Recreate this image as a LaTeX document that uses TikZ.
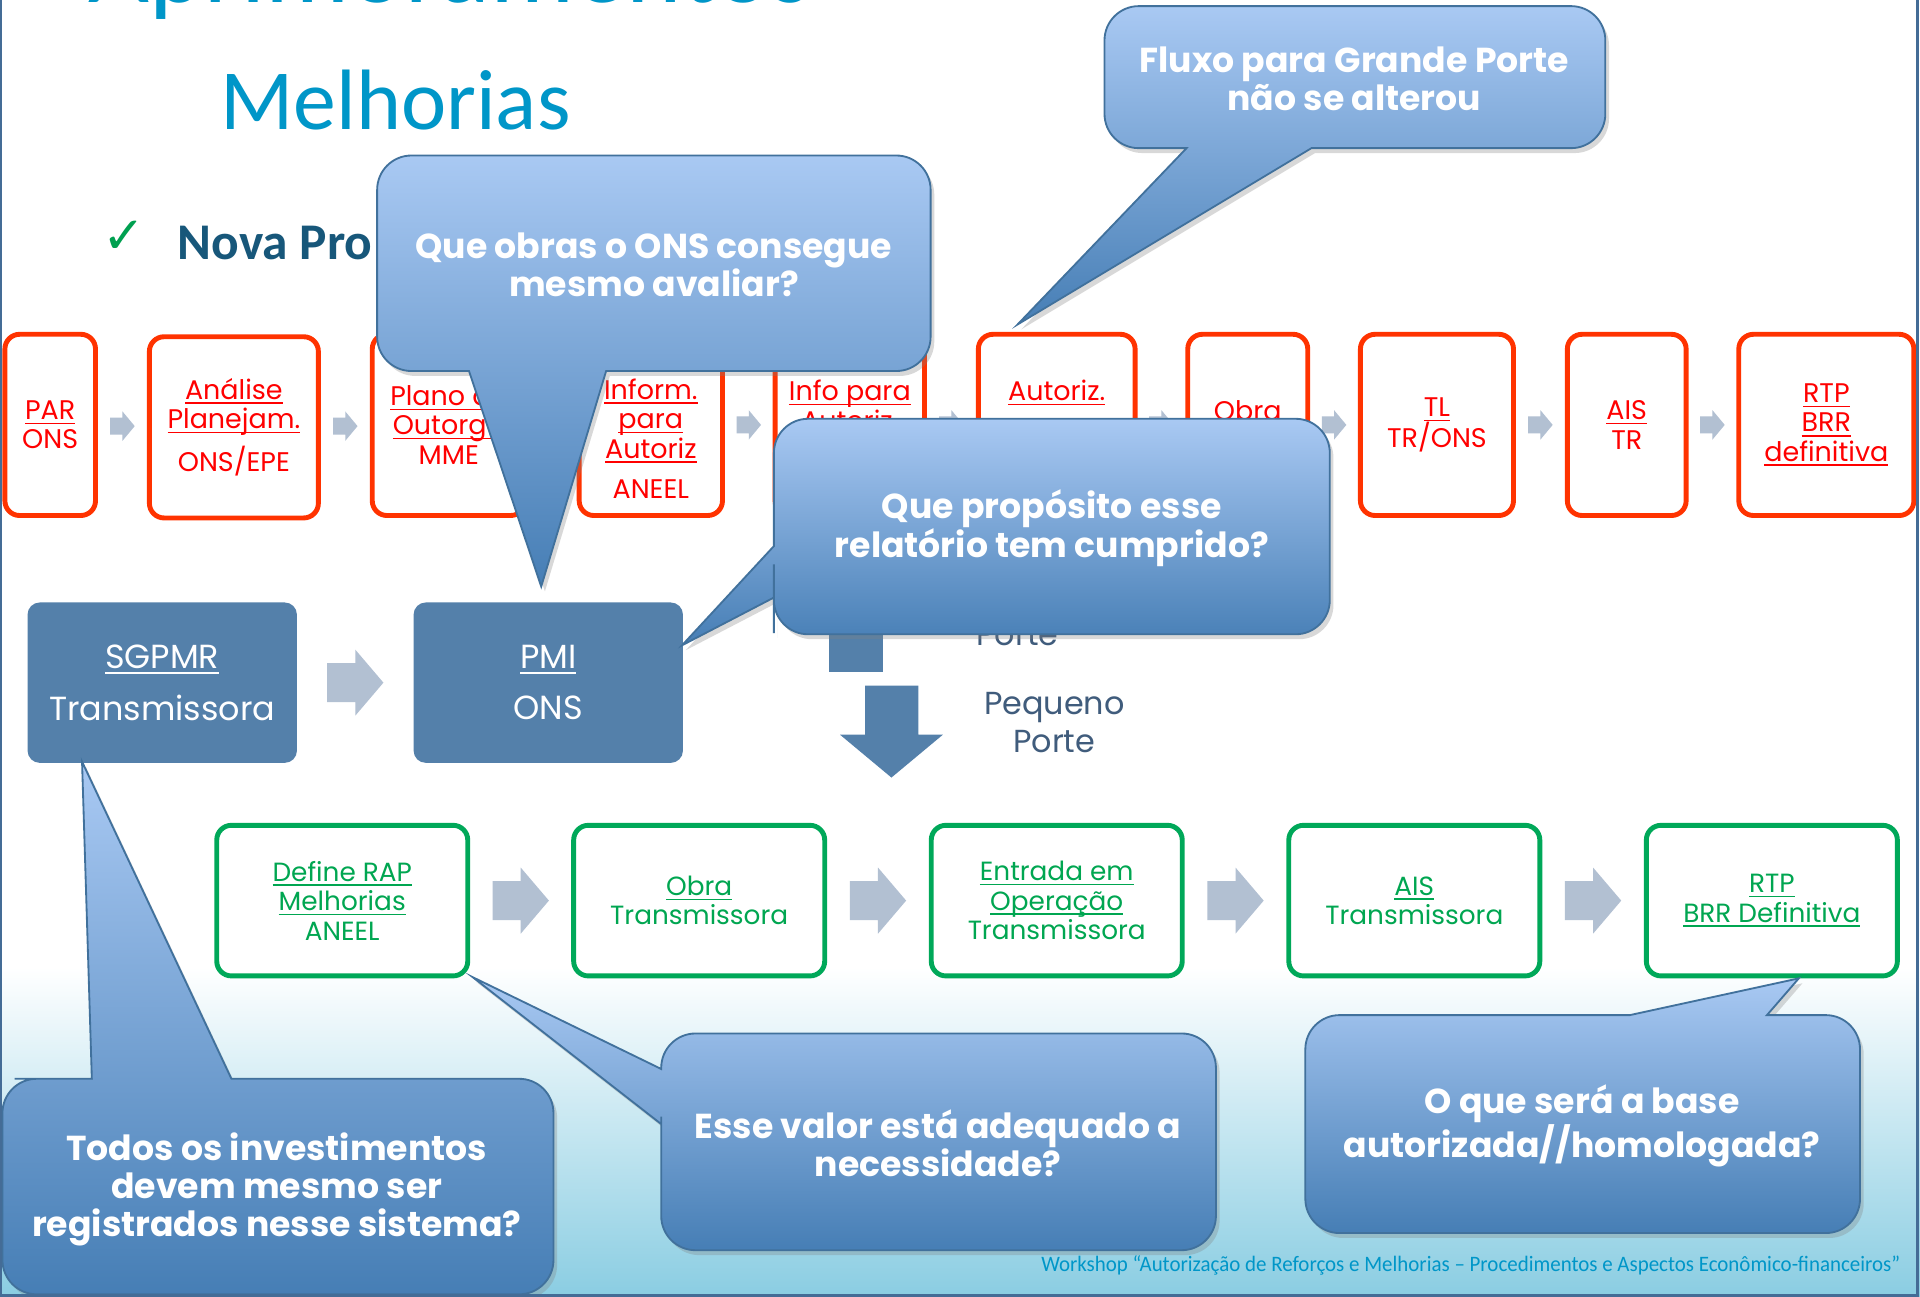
\documentclass[tikz,border=0pt]{standalone}
\usepackage{fontspec}
\usepackage{graphicx}
\setmainfont{Poppins}
\newfontfamily\calibri{Carlito}
\newfontfamily\dejavu{DejaVu Sans}
\usetikzlibrary{calc,shadows}
\newcommand{\lnk}[1]{\setbox0\hbox{#1}\rlap{\rule[-0.17em]{\wd0}{0.055em}}\box0}

\definecolor{titleblue}{RGB}{0,150,200}
\definecolor{novablue}{RGB}{23,87,122}
\definecolor{checkgreen}{RGB}{0,160,80}
\definecolor{redline}{RGB}{255,51,0}
\definecolor{redtext}{RGB}{255,0,0}
\definecolor{greenline}{RGB}{0,168,89}
\definecolor{greentext}{RGB}{0,166,81}
\definecolor{boxblue}{RGB}{84,128,170}
\definecolor{arrowgray}{RGB}{178,192,210}
\definecolor{callouttop}{RGB}{169,201,243}
\definecolor{calloutbot}{RGB}{70,126,181}
\definecolor{calloutline}{RGB}{65,113,156}
\definecolor{portegray}{RGB}{64,92,124}
\definecolor{bgblue}{RGB}{138,205,226}
\definecolor{framecol}{RGB}{68,108,150}

\tikzset{
  redbox/.style={draw=redline, line width=4pt, rounded corners=12pt, fill=white,
    minimum height=148pt, inner sep=0pt, text=redtext, align=center,
    font=\fontsize{22}{24}\selectfont},
  greenbox/.style={draw=greenline, line width=4pt, rounded corners=12pt, fill=white,
    minimum width=205pt, minimum height=123pt, text=greentext, align=center,
    font=\fontsize{21.5}{24}\selectfont},
  bluebox/.style={fill=boxblue, rounded corners=10pt, minimum width=220pt,
    minimum height=131pt, text=white, align=center, font=\fontsize{27.3}{42}\selectfont},
  bubble/.style={draw=calloutline, line width=1.5pt, top color=callouttop,
    bottom color=calloutbot,
    drop shadow={shadow xshift=3pt, shadow yshift=-4pt, opacity=0.3}},
  bubbletext/.style={text=white, align=center, font=\bfseries\fontsize{28.3}{31}\selectfont},
  porte/.style={text=portegray, align=center, font=\fontsize{26}{31}\selectfont},
  chev/.pic={\fill[arrowgray] (-10,-7) -- (0,-7) -- (0,-12) -- (10,0) -- (0,12) -- (0,7) -- (-10,7) -- cycle;},
  bigchev/.pic={\fill[arrowgray] (-23,-16) -- (0,-16) -- (0,-27) -- (23,0) -- (0,27) -- (0,16) -- (-23,16) -- cycle;}
}

\begin{document}
\begin{tikzpicture}[x=1pt,y=-1pt]
  \useasboundingbox (0,0) rectangle (1568,1059);
  \clip (0,0) rectangle (1568,1059);
  % fundo
  \fill[white] (0,0) rectangle (1568,1059);
  \fill[top color=white, bottom color=bgblue] (0,790) rectangle (1568,1059);

  % titulo
  \node[anchor=base west, inner sep=0pt, text=titleblue, font=\calibri\fontsize{86}{86}\selectfont] (aprimo) at (72,2) {Aprimoramentos};
  \node[anchor=base west, inner sep=0pt, text=titleblue, font=\calibri\fontsize{70}{70}\selectfont] (melhorias) at (180,106) {Melhorias};
  \node[text=checkgreen, font=\dejavu\fontsize{42}{42}\selectfont] (check) at (101,194) {✓};
  \node[anchor=base west, inner sep=0pt, text=novablue, font=\calibri\bfseries\fontsize{42}{42}\selectfont] (nova) at (145,212) {Nova Pro};

  % fluxo grande porte
  \node[redbox, minimum width=74pt] (par) at (41,347) {\lnk{PAR}\\ONS};
  \node[redbox, minimum width=138pt] (analise) at (191,349) {\lnk{Análise}\\\lnk{Planejam.}\\[8pt]ONS/EPE};
  \node[redbox, minimum width=125pt] (plano) at (366.5,347) {\lnk{Plano de}\\\lnk{Outorga}\\MME};
  \node[redbox, minimum width=117pt] (inform) at (531.5,347) {\vphantom{Ag}\\\lnk{Inform.}\\\lnk{para}\\\lnk{Autoriz}\\[9pt]ANEEL};
  \node[redbox, minimum width=122pt] (info) at (694,347) {\lnk{Info para}\\\lnk{Autoriz.}\\[8pt]\mbox{}};
  \node[redbox, minimum width=128pt] (autoriz) at (863,347) {\lnk{Autoriz.}\\\mbox{}\\[8pt]\mbox{}};
  \node[redbox, minimum width=98pt] (obrat) at (1019,347) {\lnk{Obra}\\\mbox{}};
  \node[redbox, minimum width=125pt] (tl) at (1173.5,347) {\lnk{TL}\\TR/ONS};
  \node[redbox, minimum width=97pt] (aistr) at (1328.5,347) {\lnk{AIS}\\TR};
  \node[redbox, minimum width=143pt] (rtpbrr) at (1491.5,347) {\lnk{RTP}\\\lnk{BRR}\\\lnk{definitiva}};
  \foreach \a/\b in {par/analise,analise/plano,plano/inform,inform/info,info/autoriz,autoriz/obrat,obrat/tl,tl/aistr,aistr/rtpbrr}
    \path ($(\a.east)!.5!(\b.west)$) pic {chev};

  % sistemas
  \node[bluebox] (sgpmr) at (132.5,557.5) {\lnk{SGPMR}\\Transmissora};
  \node[bluebox] (pmi) at (447.75,557.5) {\lnk{PMI}\\ONS};
  \path ($(sgpmr.east)!.5!(pmi.west)$) pic {bigchev};

  % pequeno porte
  \fill[boxblue] (677,480) rectangle (721,548.5);
  \fill[boxblue] (706.5,560) -- (750,560) -- (750,600) -- (770,600) -- (728,635) -- (686,600) -- (706.5,600) -- cycle;
  \node[porte, anchor=base] (grande) at (831,527) {Porte};
  \node[porte] (pequeno) at (861,590) {Pequeno\\Porte};

  % fluxo pequeno porte
  \node[greenbox] (rap) at (279.5,735.5) {\lnk{Define RAP}\\\lnk{Melhorias}\\ANEEL};
  \node[greenbox] (obra) at (571,735.5) {\lnk{Obra}\\Transmissora};
  \node[greenbox] (entrada) at (863,735.5) {\lnk{Entrada em}\\\lnk{Operação}\\Transmissora};
  \node[greenbox] (ais) at (1155,735.5) {\lnk{AIS}\\Transmissora};
  \node[greenbox] (rtp) at (1447,735.5) {\lnk{RTP}\\\lnk{BRR Definitiva}};
  \foreach \a/\b in {rap/obra,obra/entrada,entrada/ais,ais/rtp}
    \path ($(\a.east)!.5!(\b.west)$) pic {bigchev};

  % baloes
  \path[bubble] (308,200) [rounded corners=28pt] -- (308,127) -- (760,127) -- (760,303) -- (600,303)
    [sharp corners] -- (495,303) -- (442,479) -- (383,303) -- (345,303)
    [rounded corners=28pt] -- (308,303) -- cycle;
  \node[bubbletext] (qobras) at (534,216) {Que obras o ONS consegue\\mesmo avaliar?};

  \path[bubble] (902,60) [rounded corners=28pt] -- (902,5) -- (1311,5) -- (1311,121) -- (1120,121)
    [sharp corners] -- (1071,121) -- (831,265) -- (969,121) -- (945,121)
    [rounded corners=28pt] -- (902,121) -- cycle;
  \node[bubbletext] (fluxo) at (1106,64) {Fluxo para Grande Porte\\não se alterou};

  \path[bubble] (859,342) [rounded corners=28pt] -- (1086,342) -- (1086,518) -- (632,518) -- (632,489)
    [sharp corners] -- (632,488) -- (557,527) -- (632,446) -- (632,420)
    [rounded corners=28pt] -- (632,342) -- cycle;
  \node[bubbletext] (qprop) at (859,431.5) {Que propósito esse\\relatório tem cumprido?};

  \path[bubble] (226,1057) [rounded corners=28pt] -- (2,1057) -- (2,881) -- (40,881)
    [sharp corners] -- (75,881) -- (67,622) -- (189,881) -- (230,881)
    [rounded corners=28pt] -- (452,881) -- (452,1057) -- cycle;
  \node[bubbletext] (todos) at (226,971) {Todos os investimentos\\devem mesmo ser\\registrados nesse sistema?};

  \path[bubble] (766,844) [rounded corners=28pt] -- (993,844) -- (993,1021) -- (540,1021) -- (540,940)
    [sharp corners] -- (540,918) -- (386,798) -- (540,873) -- (540,872)
    [rounded corners=28pt] -- (540,844) -- cycle;
  \node[bubbletext] (esse) at (766,933.5) {Esse valor está adequado a\\necessidade?};

  \path[bubble] (1292,1007) [rounded corners=28pt] -- (1066,1007) -- (1066,829) -- (1300,829)
    [sharp corners] -- (1331,829) -- (1469,799) -- (1443,829) -- (1480,829)
    [rounded corners=28pt] -- (1519,829) -- (1519,1007) -- cycle;
  \node[bubbletext] (obase) at (1292,919.5) {O que será a base\\autorizada//homologada?};

  % rodape e moldura
  \node[anchor=base east, inner sep=0pt, text=titleblue, font=\calibri\fontsize{18}{18}\selectfont] (rodape) at (1552,1038.5)
    {\scalebox{0.95}[1]{Workshop “Autorização de Reforços e Melhorias – Procedimentos e Aspectos Econômico-financeiros”}};
  \draw[framecol, line width=2pt] (1,0) -- (1,1058) -- (1566,1058) -- (1566,0);
\end{tikzpicture}
\end{document}
